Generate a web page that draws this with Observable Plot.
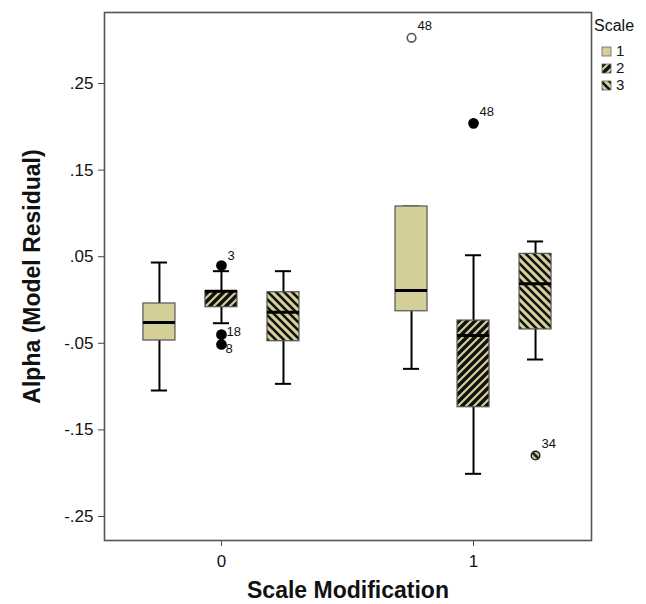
<!DOCTYPE html>
<html><head><meta charset="utf-8">
<script src="https://cdn.jsdelivr.net/npm/d3@7"></script>
<script src="https://cdn.jsdelivr.net/npm/@observablehq/plot@0.6"></script>
<style>
body{margin:0;background:#fff;font-family:"Liberation Sans",Arial,sans-serif}
#chart svg{overflow:visible}
</style>
</head><body>
<svg width="0" height="0" style="position:absolute">
<defs>
<pattern id="hatch2" patternUnits="userSpaceOnUse" width="8" height="8">
<rect width="8" height="8" fill="#111"/>
<path d="M-2,2 l4,-4 M0,8 l8,-8 M6,10 l4,-4" stroke="#d4ce98" stroke-width="2.2"/>
</pattern>
<pattern id="hatch3" patternUnits="userSpaceOnUse" width="8" height="8">
<rect width="8" height="8" fill="#d4ce98"/>
<path d="M-2,6 l4,4 M0,0 l8,8 M6,-2 l4,4" stroke="#111" stroke-width="2.6"/>
</pattern>
</defs></svg>
<div id="chart"></div>
<script>
// ---- data ----
const groups      = [0, 0, 0, 1, 1, 1];
const scaleLevels = [1, 2, 3, 1, 2, 3];
const whiskerLow  = [-0.1045, -0.0268, -0.0968, -0.0795, -0.2007, -0.0687];
const q1          = [-0.0468, -0.0083, -0.0476, -0.0130, -0.1238, -0.0340];
const medians     = [-0.0260,  0.0102, -0.0141,  0.0110, -0.0410,  0.0187];
const q3          = [-0.0040,  0.0102,  0.0090,  0.1080, -0.0237,  0.0533];
const whiskerHigh = [ 0.0433,  0.0333,  0.0333,  0.1080,  0.0517,  0.0676];

const outlierGroup = [0, 0, 0, 1, 1, 1];
const outlierScale = [2, 2, 2, 1, 2, 3];
const outlierValue = [0.0398, -0.0400, -0.0514, 0.3028, 0.2040, -0.1796];
const outlierId    = ["3", "18", "8", "48", "48", "34"];

const yTicks = [-0.25, -0.15, -0.05, 0.05, 0.15, 0.25];
const xTicks = [0, 1];
const legendTitle = "Scale";
const legendLabels = ["1", "2", "3"];

// ---- layout constants ----
const KHAKI = "#d4ce98";
const fills = [KHAKI, "url(#hatch2)", "url(#hatch3)"];
const OFFSET = 0.246, HALF = 0.0635, CAP = 0.032;
const FONT = "'Liberation Sans', Arial, sans-serif";

const boxes = groups.map((g, i) => ({
  g, s: scaleLevels[i], pos: g + (scaleLevels[i] - 2) * OFFSET,
  wl: whiskerLow[i], q1: q1[i], med: medians[i], q3: q3[i], wh: whiskerHigh[i]
}));
const outliers = outlierGroup.map((g, i) => ({
  s: outlierScale[i], pos: g + (outlierScale[i] - 2) * OFFSET,
  v: outlierValue[i], id: outlierId[i]
}));
const labelOffsets = {"3": [6, -10], "18": [5, -3], "8": [4, 4], "48": [6, -12], "34": [6, -12]};

const fmt = d => d3.format(".2f")(d).replace("0.", ".").replace("\u2212", "-");

const chart = Plot.plot({
  width: 646, height: 604,
  marginLeft: 104, marginRight: 55, marginTop: 12, marginBottom: 64,
  style: {fontFamily: FONT, background: "#fff", color: "#000"},
  x: {domain: [-0.464, 1.468]},
  y: {domain: [-0.2777, 0.332]},
  color: {domain: [1, 2, 3], range: fills},
  marks: [
    Plot.axisY({ticks: yTicks, tickFormat: fmt, tickSize: 6, tickPadding: 5, fontSize: 17, label: null, stroke: "#444", fill: "#111"}),
    Plot.axisX({ticks: xTicks, tickFormat: d => String(d), tickSize: 6, tickPadding: 8, fontSize: 17, label: null, stroke: "#444", fill: "#111"}),
    Plot.ruleX(boxes, {x: "pos", y1: "wl", y2: "q1", stroke: "#000", strokeWidth: 2}),
    Plot.ruleX(boxes, {x: "pos", y1: "q3", y2: "wh", stroke: "#000", strokeWidth: 2}),
    Plot.ruleY(boxes, {y: "wl", x1: d => d.pos - CAP, x2: d => d.pos + CAP, stroke: "#000", strokeWidth: 2}),
    Plot.ruleY(boxes, {y: "wh", x1: d => d.pos - CAP, x2: d => d.pos + CAP, stroke: "#000", strokeWidth: 2}),
    Plot.rect(boxes, {x1: d => d.pos - HALF, x2: d => d.pos + HALF, y1: "q1", y2: "q3", fill: "s", stroke: "#555", strokeWidth: 1.2}),
    Plot.ruleY(boxes, {y: "med", x1: d => d.pos - HALF, x2: d => d.pos + HALF, stroke: "#000", strokeWidth: 3}),
    Plot.dot(outliers.filter(d => d.s === 1), {x: "pos", y: "v", r: 4.3, fill: "#fff", stroke: "#555", strokeWidth: 1.6}),
    Plot.dot(outliers.filter(d => d.s === 2), {x: "pos", y: "v", r: 4.6, fill: "#000", stroke: "#000"}),
    Plot.dot(outliers.filter(d => d.s === 3), {x: "pos", y: "v", r: 4.3, fill: "url(#hatch3)", stroke: "#222", strokeWidth: 1.4}),
    ...outliers.map(d => Plot.text([d], {x: "pos", y: "v", text: "id", textAnchor: "start", fontSize: 13,
      dx: labelOffsets[d.id][0], dy: labelOffsets[d.id][1], fill: "#111"})),
    Plot.frame({stroke: "#555", strokeWidth: 1.6}),
    Plot.text(["Alpha (Model Residual)"], {frameAnchor: "left", textAnchor: "middle", lineAnchor: "middle", rotate: -90, dx: -72, fontSize: 23, fontWeight: "bold", fill: "#111"}),
    Plot.text(["Scale Modification"], {frameAnchor: "bottom", textAnchor: "middle", lineAnchor: "middle", dy: 50, fontSize: 23, fontWeight: "bold", fill: "#111"})
  ]
});
document.getElementById("chart").appendChild(chart);

// legend
const svg = d3.select(chart);
const lg = svg.append("g").attr("font-family", FONT).attr("text-anchor", "start");
lg.append("text").attr("x", 594).attr("y", 31).attr("font-size", 16).attr("fill", "#111").text(legendTitle);
legendLabels.forEach((lab, i) => {
  lg.append("rect").attr("x", 602).attr("y", 47 + i * 17).attr("width", 9).attr("height", 9)
    .attr("fill", fills[i]).attr("stroke", "#666").attr("stroke-width", 0.8);
  lg.append("text").attr("x", 616).attr("y", 56 + i * 17).attr("font-size", 15).attr("fill", "#111").text(lab);
});
</script>
</body></html>
